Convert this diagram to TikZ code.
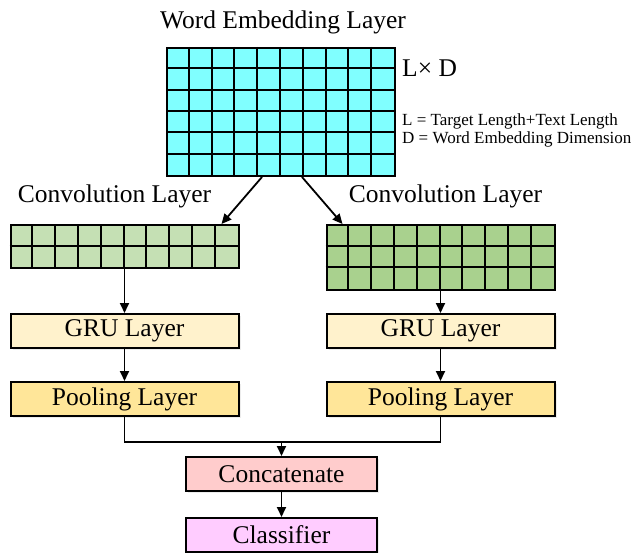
\documentclass[tikz,border=0pt]{standalone}
\usepackage{fontspec}
\setmainfont{Liberation Serif}
\usetikzlibrary{arrows.meta,calc,shadows}

\definecolor{embedcol}{HTML}{80FFFF}
\definecolor{convacol}{HTML}{C5E0B4}
\definecolor{convbcol}{HTML}{A9D18E}
\definecolor{grucol}{HTML}{FFF2CC}
\definecolor{poolcol}{HTML}{FFE699}
\definecolor{catcol}{HTML}{FFCCCC}
\definecolor{clscol}{HTML}{FFCCFF}

\tikzset{
    bigfont/.style={font=\fontsize{25.5}{30}\selectfont},
    layerbox/.style={draw, line width=2pt, minimum width=228pt, minimum height=34pt,
        inner sep=0pt, bigfont,
        drop shadow={opacity=0.15, shadow xshift=2pt, shadow yshift=-2pt}},
    gridbox/.style={draw, line width=2pt, inner sep=0pt, minimum width=228pt},
    gridline/.style={line width=2pt},
    link/.style={-{Triangle[length=10pt,width=9pt]}, line width=1.8pt}
}

\begin{document}
\begin{tikzpicture}[x=1pt, y=-1pt]
    \useasboundingbox (0,0) rectangle (636,553);

    % 词向量层
    \node[bigfont, anchor=base] (title) at (283,29) {Word Embedding Layer};
    \node[gridbox, fill=embedcol, minimum height=128pt] (embed) at (281,112) {};
    \foreach \i in {1,...,9}
        \draw[gridline] ($(embed.north west)+(\i*22.8,0)$) -- ++(0,128);
    \foreach \j in {1,...,5}
        \draw[gridline] ($(embed.north west)+(0,\j*21.33)$) -- ++(228,0);
    \node[bigfont, anchor=base west, inner sep=0pt] (dims) at (402,77) {L× D};
    \node[font=\fontsize{17}{18}\selectfont, anchor=base west, inner sep=0pt] (defl) at (402,126)
        {L = Target Length+Text Length};
    \node[font=\fontsize{17}{18}\selectfont, anchor=base west, inner sep=0pt] (defd) at (402,144)
        {D = Word Embedding Dimension};

    % 两个卷积层
    \node[bigfont, anchor=base] (convtxta) at (114.5,203) {Convolution Layer};
    \node[bigfont, anchor=base] (convtxtb) at (445.5,203) {Convolution Layer};
    \node[gridbox, fill=convacol, minimum height=43pt] (conva) at (124.5,246.5) {};
    \node[gridbox, fill=convbcol, minimum height=65pt] (convb) at (440.5,257.5) {};
    \foreach \i in {1,...,9} {
        \draw[gridline] ($(conva.north west)+(\i*22.8,0)$) -- ++(0,43);
        \draw[gridline] ($(convb.north west)+(\i*22.8,0)$) -- ++(0,65);
    }
    \draw[gridline] ($(conva.north west)+(0,21.5)$) -- ++(228,0);
    \foreach \j in {1,2}
        \draw[gridline] ($(convb.north west)+(0,\j*21.67)$) -- ++(228,0);

    % GRU 与池化
    \node[layerbox, fill=grucol] (grua) at (124.5,331) {GRU Layer};
    \node[layerbox, fill=grucol] (grub) at (440.5,331) {GRU Layer};
    \node[layerbox, fill=poolcol] (poola) at (124.5,399) {Pooling Layer};
    \node[layerbox, fill=poolcol] (poolb) at (440.5,399) {Pooling Layer};

    % 拼接与分类
    \node[layerbox, fill=catcol, minimum width=191pt] (concat) at (281.5,474) {Concatenate};
    \node[layerbox, fill=clscol, minimum width=191pt] (classifier) at (281.5,535) {Classifier};

    % 连线
    \coordinate (ea) at ($(embed.south)+(-19,0)$);
    \coordinate (eb) at ($(embed.south)+(21,0)$);
    \coordinate (ta) at ($(conva.north east)+(-18,0)$);
    \coordinate (tb) at ($(convb.north west)+(17,0)$);
    \coordinate (merge) at (281.5,442);
    \draw[link] (ea) -- (ta);
    \draw[link] (eb) -- (tb);
    \draw[link] (conva.south) -- (grua.north);
    \draw[link] (convb.south) -- (grub.north);
    \draw[link] (grua) -- (poola);
    \draw[link] (grub) -- (poolb);
    \draw[line width=1.8pt] (poola.south) |- (merge) -| (poolb.south);
    \draw[link] (merge) -- (concat.north);
    \draw[link] (concat) -- (classifier);
\end{tikzpicture}
\end{document}
